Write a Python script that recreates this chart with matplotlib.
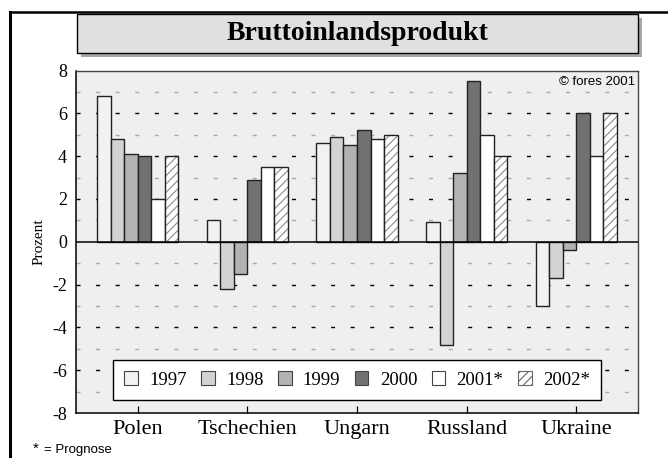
import numpy as np
import matplotlib
matplotlib.use("Agg")
import matplotlib.pyplot as plt
from matplotlib.patches import Rectangle, Patch
from matplotlib.lines import Line2D

plt.rcParams['lines.scale_dashes'] = False
plt.rcParams['hatch.linewidth'] = 0.8

# Daten (Prozent, Veränderung zum Vorjahr)
laender = ["Polen", "Tschechien", "Ungarn", "Russland", "Ukraine"]
jahre = ["1997", "1998", "1999", "2000", "2001*", "2002*"]
bip_1997 = [6.8, 1.0, 4.6, 0.9, -3.0]
bip_1998 = [4.8, -2.2, 4.9, -4.8, -1.7]
bip_1999 = [4.1, -1.5, 4.5, 3.2, -0.4]
bip_2000 = [4.0, 2.9, 5.2, 7.5, 6.0]
bip_2001 = [2.0, 3.5, 4.8, 5.0, 4.0]
bip_2002 = [4.0, 3.5, 5.0, 4.0, 6.0]
reihen = [bip_1997, bip_1998, bip_1999, bip_2000, bip_2001, bip_2002]

farben = ["#f2f2f2", "#d3d3d3", "#b2b2b2", "#717171", "#ffffff", "#ffffff"]
SERIF = "Liberation Serif"
SANS = "Liberation Sans"

W, H = 668, 458
fig = plt.figure(figsize=(W / 100, H / 100), dpi=100)

def fx(px):
    return px / W

def fy(py):
    return 1 - py / H

# Rahmen oben und links
fig.add_artist(Line2D([fx(10), 1], [fy(12), fy(12)], color="black", lw=1.8))
fig.add_artist(Line2D([fx(10), fx(10)], [0, fy(12)], color="black", lw=2.2))

# Titelbox mit Schatten
fig.add_artist(Rectangle((fx(81), fy(57)), fx(561), 39 / H, facecolor="#a8a8a8",
                         edgecolor="none", transform=fig.transFigure))
fig.add_artist(Rectangle((fx(77), fy(53)), fx(561), 39 / H, facecolor="#e0e0e0",
                         edgecolor="black", lw=1.0, transform=fig.transFigure))
fig.text(fx(357.5), fy(34), "Bruttoinlandsprodukt", ha="center", va="center",
         fontsize=20, fontweight="bold", family=SERIF)

ax = fig.add_axes([fx(76), fy(413), 562 / W, 342.5 / H])
ax.set_facecolor("#efefef")

x = np.arange(len(laender))
bw = 0.1233
for i, werte in enumerate(reihen):
    pos = x + (i - 2.5) * bw
    if i == 5:
        ax.bar(pos, werte, bw, color="white", edgecolor="#8a8a8a", lw=0,
               hatch="////", zorder=2)
        ax.bar(pos, werte, bw, fill=False, edgecolor="#222222", lw=1.0, zorder=2.1)
    else:
        ax.bar(pos, werte, bw, color=farben[i], edgecolor="#222222", lw=1.0, zorder=2)

# gestrichelte Hilfslinien
for yv in range(-7, 8):
    if yv == 0:
        continue
    c = "black" if yv % 2 == 0 else "#aaaaaa"
    ax.axhline(yv, color=c, lw=1.0, dashes=(2.9, 11.2), zorder=1)
ax.axhline(0, color="black", lw=1.1, zorder=3)

ax.set_xlim(-0.566, 4.566)
ax.set_ylim(-8, 8)
ax.set_yticks(range(-8, 9, 2))
ax.set_yticklabels([str(v) for v in range(-8, 9, 2)], family=SERIF, fontsize=13)
ax.tick_params(axis="y", length=0, pad=6.5)
ax.set_xticks(x)
ax.set_xticklabels(laender, family=SERIF, fontsize=16)
ax.tick_params(axis="x", direction="in", length=5, width=0.9, pad=5)

for s in ["top", "right"]:
    ax.spines[s].set_color("#444444")
    ax.spines[s].set_linewidth(1.0)
for s in ["left", "bottom"]:
    ax.spines[s].set_color("black")
    ax.spines[s].set_linewidth(1.1)

ax.text(-0.066, 0.5, "Prozent", transform=ax.transAxes, rotation=90,
        ha="center", va="center", family=SERIF, fontsize=11)
ax.text(0.995, 0.965, "© fores 2001", transform=ax.transAxes, ha="right",
        va="center", family=SANS, fontsize=9.5)

handles = []
for i in range(6):
    if i == 5:
        handles.append(Patch(facecolor="white", edgecolor="#666666", hatch="////", lw=0.8))
    else:
        handles.append(Patch(facecolor=farben[i], edgecolor="#444444", lw=0.8))
leg = ax.legend(handles, jahre, loc="center", bbox_to_anchor=(0.5, 0.0964),
                ncol=6, frameon=True, fancybox=False, framealpha=1,
                prop={"family": SERIF, "size": 13.5}, handlelength=0.72,
                handleheight=0.72, handletextpad=0.6, columnspacing=0.78,
                borderpad=0.6)
leg.get_frame().set_edgecolor("black")
leg.get_frame().set_linewidth(1.0)
leg.set_zorder(5)

fig.text(fx(33), fy(453), "*", family=SANS, fontsize=11, ha="left", va="baseline")
fig.text(fx(44), fy(453), "= Prognose", family=SANS, fontsize=9.5, ha="left", va="baseline")

fig.savefig("out.png", dpi=100)
